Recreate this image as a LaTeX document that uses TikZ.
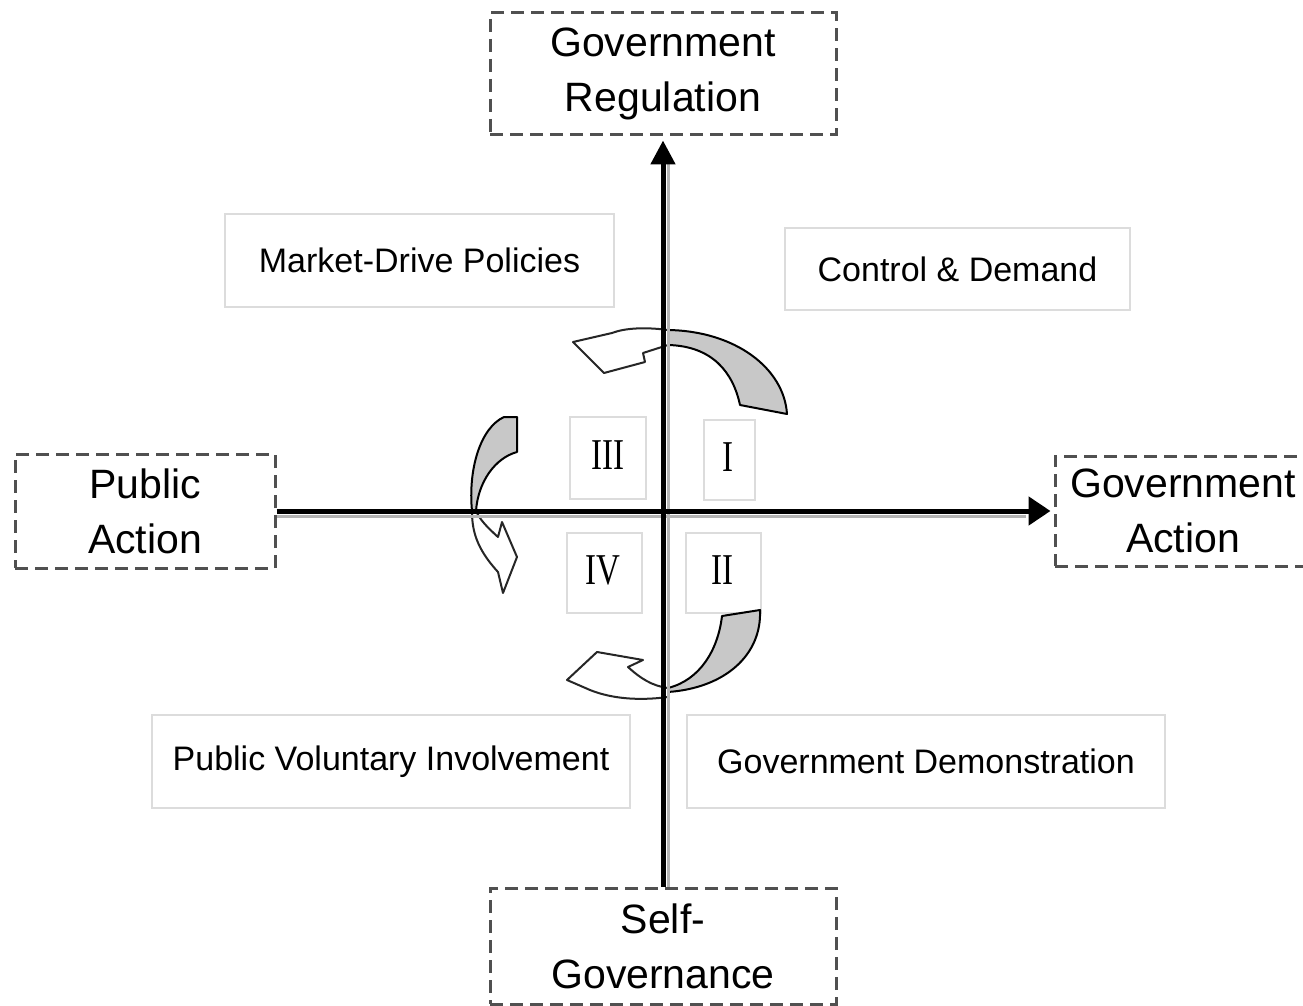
\documentclass[tikz,border=0pt]{standalone}
\usepackage{fontspec}
\setmainfont{Liberation Sans}
\newfontfamily\romanf{Liberation Serif}
\usetikzlibrary{arrows.meta}
\definecolor{dashgray}{HTML}{505050}
\definecolor{lightbox}{HTML}{DCDCDC}
\definecolor{arrowfill}{HTML}{C8C8C8}
\definecolor{shadowgray}{HTML}{B4B4B4}
\tikzset{
  bigbox/.style={draw=dashgray, line width=1.5pt, dash pattern=on 6.5pt off 3.5pt,
    align=center, inner sep=0pt, font=\fontsize{20.5}{27.5}\selectfont},
  lightrect/.style={draw=lightbox, line width=1.4pt, align=center, inner sep=0pt,
    font=\fontsize{17}{20}\selectfont},
  numbox/.style={draw=lightbox, line width=1.4pt, inner sep=0pt},
  numtext/.style={inner sep=0pt, font=\romanf\fontsize{22}{24}\selectfont},
  axis/.style={line width=2.5pt, black},
  axisshadow/.style={line width=1.5pt, shadowgray},
  grayarrow/.style={fill=arrowfill, draw=black, line width=1pt, line join=round},
  whitearrow/.style={fill=white, draw=black!85, line width=1pt, line join=round},
}
\begin{document}
\begin{tikzpicture}[x=0.5pt,y=-0.5pt]
\useasboundingbox (0,0) rectangle (1303,1006);
\clip (0,0) rectangle (1303,1006);
\fill[white] (0,0) rectangle (1303,1006);

% main dashed boxes
\node[bigbox, minimum width=173pt, minimum height=61pt] (gr) at (663,74) {Government\\Regulation};
\node[bigbox, minimum width=130pt, minimum height=57pt] (pa) at (145,511) {Public\\Action};
\node[bigbox, minimum width=128pt, minimum height=55pt] (ga) at (1183,511) {Government\\Action};
\node[bigbox, minimum width=173pt, minimum height=58pt] (sg) at (663,946) {Self-\\Governance};

% light boxes
\node[lightrect, minimum width=194.5pt, minimum height=46.5pt] (mdp) at (419.5,260.5) {Market-Drive Policies};
\node[lightrect, minimum width=172.5pt, minimum height=41pt] (cd) at (957.5,269) {Control \& Demand};
\node[lightrect, minimum width=239pt, minimum height=46.5pt] (pvi) at (391,761.5) {Public Voluntary Involvement};
\node[lightrect, minimum width=239pt, minimum height=46.5pt] (gd) at (926,761.5) {Government Demonstration};

% quadrant boxes
\node[numbox, minimum width=38pt, minimum height=41pt] (q3) at (608,458) {};
\node[numbox, minimum width=25.5pt, minimum height=40pt] (q1) at (729.5,460) {};
\node[numbox, minimum width=37.5pt, minimum height=40pt] (q4) at (604.5,573) {};
\node[numbox, minimum width=37.5pt, minimum height=40pt] (q2) at (723.5,573) {};
\node[numtext] (t3) at (608,455) {\scalebox{0.75}[1]{III}};
\node[numtext] (t1) at (728,457) {\scalebox{0.75}[1]{I}};
\node[numtext] (t4) at (603,570) {\scalebox{0.75}[1]{IV}};
\node[numtext] (t2) at (722,570) {\scalebox{0.75}[1]{II}};

% curved arrows: top
\path[grayarrow] (787,414) .. controls (784,368) and (735,331) .. (668,330)
  -- (668,345) .. controls (712,346) and (733,372) .. (740,405) -- cycle;
\path[whitearrow] (668,330) .. controls (645,327) and (625,328) .. (612,333)
  -- (573,342) -- (604,373) -- (645,362) -- (643,353) -- (668,345) -- cycle;
% left
\path[grayarrow] (504,417) -- (517,417) -- (517,452) .. controls (495,458) and (478,482) .. (476,511)
  -- (472,511) .. controls (468,470) and (480,428) .. (504,417) -- cycle;
\path[whitearrow] (472,511) .. controls (472,530) and (476,548) .. (498,572)
  -- (503,593) -- (517,557) -- (502,522) -- (498,537) .. controls (488,528) and (480,520) .. (476,511) -- cycle;
% bottom
\path[grayarrow] (722,616) -- (760,610) .. controls (762,655) and (725,688) .. (668,692)
  -- (668,688) .. controls (700,680) and (718,650) .. (722,616) -- cycle;
\path[whitearrow] (668,697) .. controls (630,702) and (605,696) .. (590,690)
  -- (567,680) -- (597,652) -- (643,660) -- (628,667) .. controls (640,678) and (652,686) .. (668,688) -- cycle;

% axes
\draw[axisshadow] ([xshift=2.5pt]sg.north) -- ([xshift=2.5pt,yshift=-14pt]gr.south);
\draw[axisshadow] ([yshift=-2.5pt]pa.east) -- ([xshift=-14pt,yshift=-2.5pt]ga.west);
\draw[axis, -{Triangle[length=12pt,width=12pt]}, shorten >=2pt] (sg.north) -- (gr.south);
\draw[axis, -{Triangle[length=11pt,width=14pt]}, shorten >=1.5pt] (pa.east) -- (ga.west);
\end{tikzpicture}
\end{document}
